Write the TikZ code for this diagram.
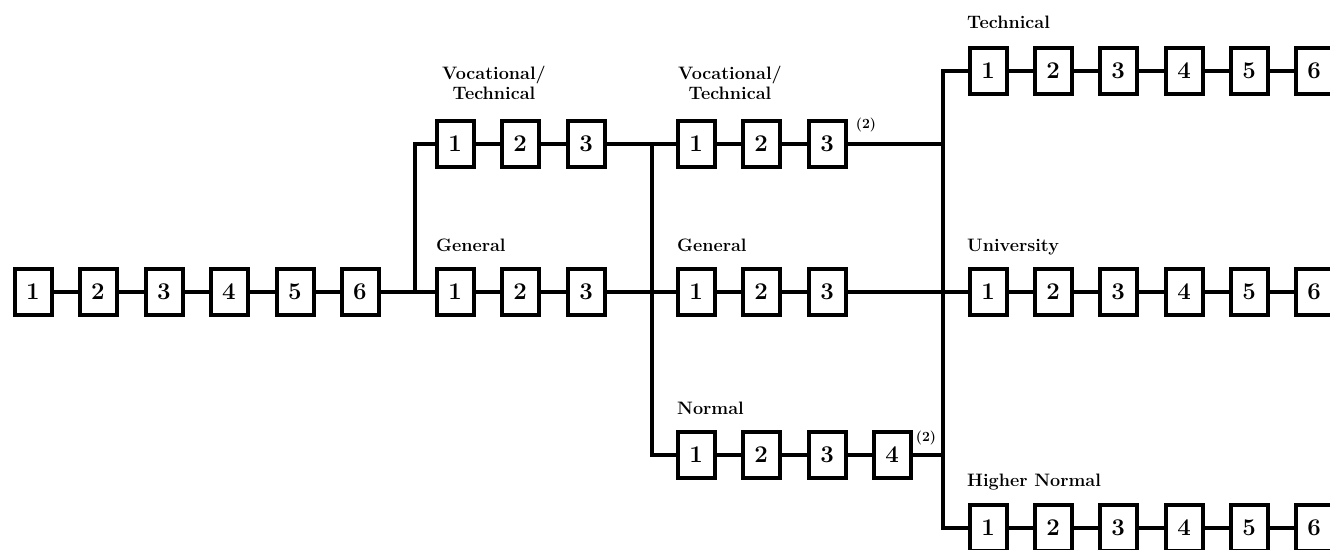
\documentclass[tikz,border=0pt]{standalone}
\usepackage{tikz}

\begin{document}
\begin{tikzpicture}[x=1pt, y=-1pt,
    yearbox/.style={draw, line width=4pt, minimum width=37pt, minimum height=46pt, inner sep=0pt,
        font=\fontsize{24}{24}\selectfont\bfseries},
    track/.style={anchor=base west, inner sep=0pt, font=\fontsize{18}{20}\selectfont\bfseries},
    twoline/.style={align=center, inner sep=0pt, font=\fontsize{18}{20}\selectfont\bfseries},
    note/.style={inner sep=0pt, font=\fontsize{14}{14}\selectfont\bfseries},
    link/.style={line width=3.5pt}]
            \useasboundingbox (0,0) rectangle (1330,549);

            % primary
            \draw (33,292) node[yearbox]                  (p1) {1};
            \draw (98,292) node[yearbox]                  (p2) {2};
            \draw (164,292) node[yearbox]                 (p3) {3};
            \draw (229,292) node[yearbox]                 (p4) {4};
            \draw (295,292) node[yearbox]                 (p5) {5};
            \draw (360,292) node[yearbox]                 (p6) {6};

            % first cycle
            \draw (494,83) node[twoline]                  (lvlab) {Vocational/\\Technical};
            \draw (455,144) node[yearbox]                 (lv1) {1};
            \draw (520,144) node[yearbox]                 (lv2) {2};
            \draw (586,144) node[yearbox]                 (lv3) {3};
            \draw (436,251) node[track]                   (lglab) {General};
            \draw (455,292) node[yearbox]                 (lg1) {1};
            \draw (520,292) node[yearbox]                 (lg2) {2};
            \draw (586,292) node[yearbox]                 (lg3) {3};

            % second cycle
            \draw (730,83) node[twoline]                  (uvlab) {Vocational/\\Technical};
            \draw (696,144) node[yearbox]                 (uv1) {1};
            \draw (761,144) node[yearbox]                 (uv2) {2};
            \draw (827,144) node[yearbox]                 (uv3) {3};
            \draw (866,125) node[note]                    (uvnote) {(2)};
            \draw (677,251) node[track]                   (uglab) {General};
            \draw (696,292) node[yearbox]                 (ug1) {1};
            \draw (761,292) node[yearbox]                 (ug2) {2};
            \draw (827,292) node[yearbox]                 (ug3) {3};
            \draw (677,414) node[track]                   (unlab) {Normal};
            \draw (696,455) node[yearbox]                 (un1) {1};
            \draw (761,455) node[yearbox]                 (un2) {2};
            \draw (827,455) node[yearbox]                 (un3) {3};
            \draw (892,455) node[yearbox]                 (un4) {4};
            \draw (926,438) node[note]                    (unnote) {(2)};

            % higher
            \draw (967,28) node[track]                    (tlab) {Technical};
            \draw (988,71) node[yearbox]                  (t1) {1};
            \draw (1053,71) node[yearbox]                 (t2) {2};
            \draw (1118,71) node[yearbox]                 (t3) {3};
            \draw (1184,71) node[yearbox]                 (t4) {4};
            \draw (1249,71) node[yearbox]                 (t5) {5};
            \draw (1314,71) node[yearbox]                 (t6) {6};
            \draw (967,251) node[track]                   (ulab) {University};
            \draw (988,292) node[yearbox]                 (u1) {1};
            \draw (1053,292) node[yearbox]                (u2) {2};
            \draw (1118,292) node[yearbox]                (u3) {3};
            \draw (1184,292) node[yearbox]                (u4) {4};
            \draw (1249,292) node[yearbox]                (u5) {5};
            \draw (1314,292) node[yearbox]                (u6) {6};
            \draw (967,486) node[track]                   (hlab) {Higher Normal};
            \draw (988,528) node[yearbox]                 (h1) {1};
            \draw (1053,528) node[yearbox]                (h2) {2};
            \draw (1118,528) node[yearbox]                (h3) {3};
            \draw (1184,528) node[yearbox]                (h4) {4};
            \draw (1249,528) node[yearbox]                (h5) {5};
            \draw (1314,528) node[yearbox]                (h6) {6};

            \coordinate (ja) at (415,292);
            \coordinate (jb) at (652,144);
            \coordinate (jc) at (943,292);

            \draw[link] (p1) -- (p2);
            \draw[link] (p2) -- (p3);
            \draw[link] (p3) -- (p4);
            \draw[link] (p4) -- (p5);
            \draw[link] (p5) -- (p6);
            \draw[link] (p6) -- (lg1);
            \draw[link] (ja) |- (lv1);
            \draw[link] (lv1) -- (lv2);
            \draw[link] (lv2) -- (lv3);
            \draw[link] (lg1) -- (lg2);
            \draw[link] (lg2) -- (lg3);
            \draw[link] (lv3) -- (uv1);
            \draw[link] (lg3) -- (ug1);
            \draw[link] (jb) |- (un1);
            \draw[link] (uv1) -- (uv2);
            \draw[link] (uv2) -- (uv3);
            \draw[link] (ug1) -- (ug2);
            \draw[link] (ug2) -- (ug3);
            \draw[link] (un1) -- (un2);
            \draw[link] (un2) -- (un3);
            \draw[link] (un3) -- (un4);
            \draw[link] (uv3) -- (uv3 -| jc);
            \draw[link] (ug3) -- (u1);
            \draw[link] (un4) -- (un4 -| jc);
            \draw[link] (t1) -| (jc) |- (h1);
            \draw[link] (t1) -- (t2);
            \draw[link] (t2) -- (t3);
            \draw[link] (t3) -- (t4);
            \draw[link] (t4) -- (t5);
            \draw[link] (t5) -- (t6);
            \draw[link] (u1) -- (u2);
            \draw[link] (u2) -- (u3);
            \draw[link] (u3) -- (u4);
            \draw[link] (u4) -- (u5);
            \draw[link] (u5) -- (u6);
            \draw[link] (h1) -- (h2);
            \draw[link] (h2) -- (h3);
            \draw[link] (h3) -- (h4);
            \draw[link] (h4) -- (h5);
            \draw[link] (h5) -- (h6);

\end{tikzpicture}
\end{document}
